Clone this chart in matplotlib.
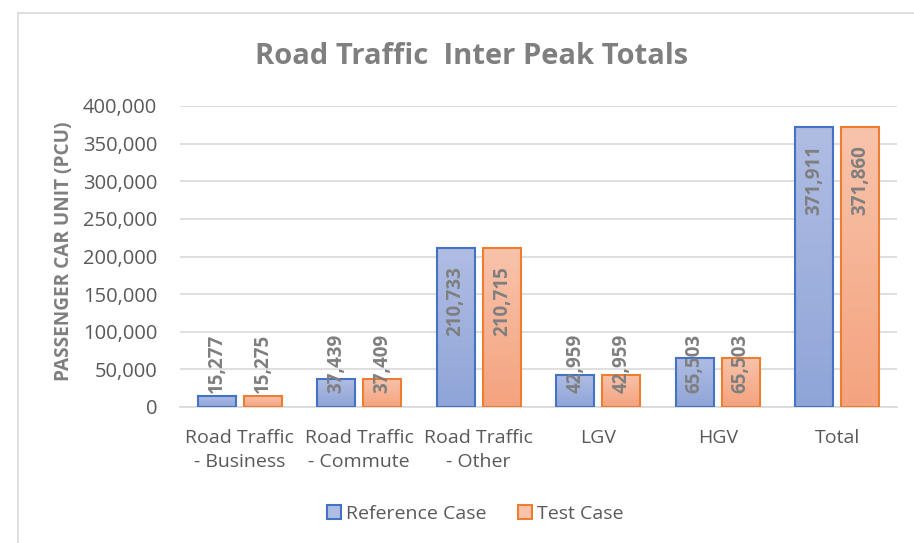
import matplotlib
matplotlib.use("Agg")
import matplotlib.pyplot as plt
import numpy as np
from matplotlib.patches import Rectangle
from matplotlib.colors import LinearSegmentedColormap
from matplotlib.ticker import FuncFormatter

categories = ["Road Traffic\n- Business", "Road Traffic\n- Commute", "Road Traffic\n- Other",
              "LGV", "HGV", "Total"]
reference_case = [15277, 37439, 210733, 42959, 65503, 371911]
test_case = [15275, 37409, 210715, 42959, 65503, 371860]
series_names = ["Reference Case", "Test Case"]
y_ticks = [0, 50000, 100000, 150000, 200000, 250000, 300000, 350000, 400000]

plt.rcParams['font.family'] = ['Open Sans', 'DejaVu Sans']
GRAY = "#7F7F7F"
TXT = "#595959"

fig = plt.figure(figsize=(9.14, 5.43), dpi=100)
ax = fig.add_axes([180/914, 1-407/543, (897-180)/914, (407-106)/543])

x = np.arange(len(categories))
w = 0.318
off = 0.193
edge_cols = ["#4472C4", "#ED7D31"]
grads = [("#8FA5D8", "#B0BDE3"), ("#F4A37E", "#F8C3AB")]

for i, (vals, name) in enumerate(zip([reference_case, test_case], series_names)):
    xs = x + (-off if i == 0 else off)
    bars = ax.bar(xs, vals, width=w, color=grads[i][1], edgecolor=edge_cols[i],
                  linewidth=1.5, label=name, zorder=3)
    cmap = LinearSegmentedColormap.from_list("g%d" % i, [grads[i][0], grads[i][1]])
    for b in bars:
        bx, by, bw, bh = b.get_x(), b.get_y(), b.get_width(), b.get_height()
        im = ax.imshow(np.linspace(0, 1, 100).reshape(-1, 1), cmap=cmap, origin="lower",
                       extent=[bx, bx + bw, by, by + bh], aspect="auto", zorder=2.5,
                       interpolation="bilinear")
        im.set_clip_path(b)
        b.set_facecolor("none")
    for xi, v in zip(xs, vals):
        top = max(v - 24000, 97500)
        ax.text(xi, top, f"{v:,}", rotation=90, ha="center", va="top",
                color=GRAY, fontsize=13.5, fontweight="bold", zorder=5)

ax.set_xlim(-0.5, len(categories) - 0.5)
ax.set_ylim(0, 400000)
ax.set_yticks(y_ticks)
ax.yaxis.set_major_formatter(FuncFormatter(lambda v, p: f"{int(v):,}"))
ax.set_xticks(x)
ax.set_xticklabels(categories, color=TXT, fontsize=14, linespacing=1.42)
ax.tick_params(axis="y", length=0, pad=16.5, labelcolor=TXT, labelsize=14.5)
ax.tick_params(axis="x", length=0, pad=16)
for s in ["top", "right", "left"]:
    ax.spines[s].set_visible(False)
ax.spines["bottom"].set_color("#D9D9D9")
ax.spines["bottom"].set_linewidth(1.2)
ax.grid(axis="y", color="#D9D9D9", linewidth=1.2, zorder=0)
ax.set_axisbelow(True)
ax.set_facecolor("none")

fig.text(64/914, 1-251/543, "PASSENGER CAR UNIT (PCU)", rotation=90, ha="center", va="center",
         color=GRAY, fontsize=13.7, fontweight="bold")
fig.text(472/914, 1-56/543, "Road Traffic  Inter Peak Totals", ha="center", va="center",
         color=GRAY, fontsize=21, fontweight="bold")

leg = fig.legend(loc="center", bbox_to_anchor=(475/914, 1-514/543), ncol=2, frameon=False,
                 fontsize=14, handlelength=0.75, handleheight=0.75, handletextpad=0.25,
                 columnspacing=1.6)
for t in leg.get_texts():
    t.set_color(TXT)
for h, fc in zip(leg.legend_handles, [grads[0][1], grads[1][1]]):
    h.set_facecolor(fc)

fig.patches.append(Rectangle((18/914, -0.05), 1.0, 1 - 13/543 + 0.05, transform=fig.transFigure,
                             fill=False, edgecolor="#D9D9D9", linewidth=1.2))

fig.savefig("out.png", dpi=100)
